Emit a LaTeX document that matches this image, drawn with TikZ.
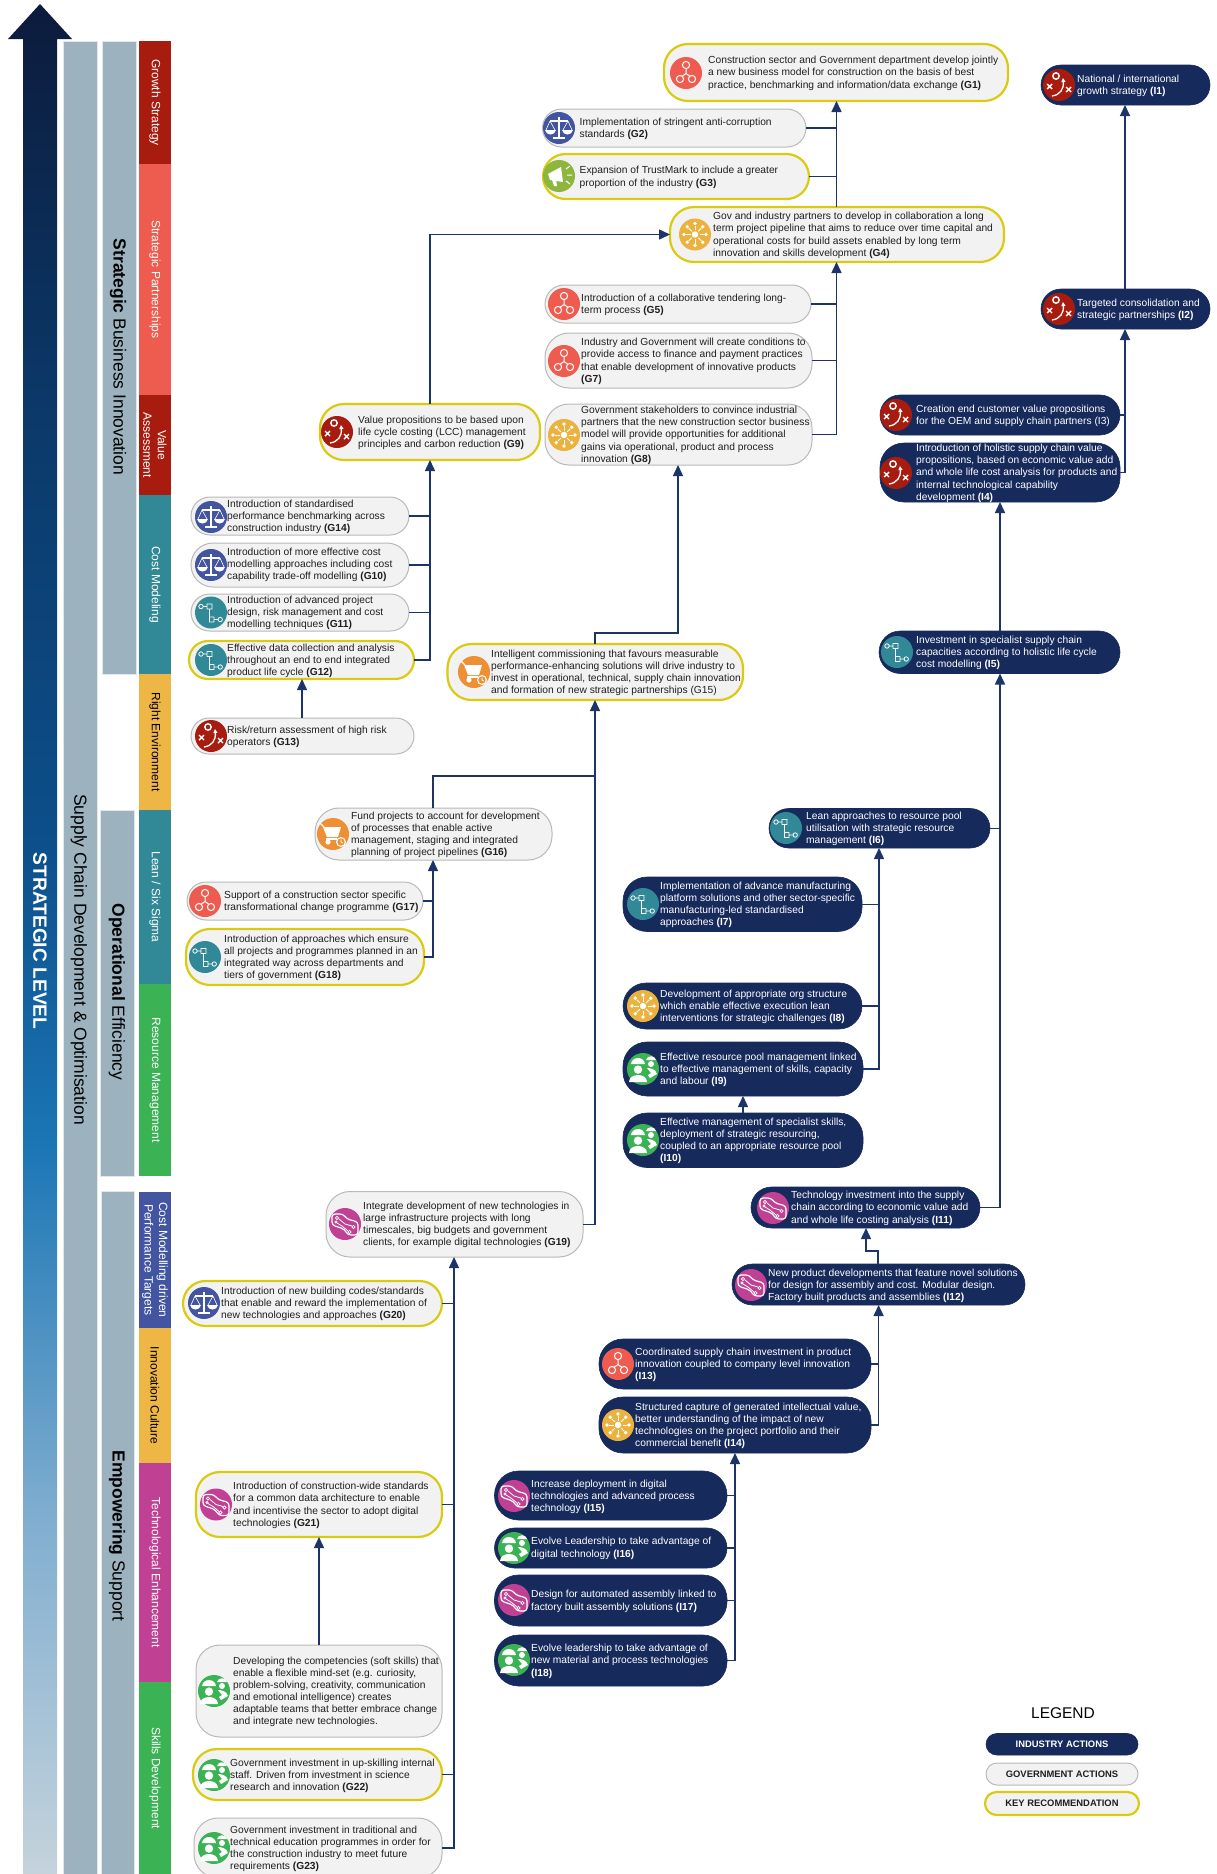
\documentclass[tikz,border=0pt]{standalone}
\usepackage{fontspec}
\setmainfont{Liberation Sans}
\usetikzlibrary{arrows.meta}
\definecolor{navy}{HTML}{172A5C}
\definecolor{linec}{HTML}{1C3468}
\definecolor{govf}{HTML}{F2F2F2}
\definecolor{govb}{HTML}{B9B9B9}
\definecolor{keyb}{HTML}{DACA10}
\definecolor{colg}{HTML}{9CB3BF}
\definecolor{colRed}{HTML}{A81C10}
\definecolor{colSal}{HTML}{EE5C4F}
\definecolor{colTeal}{HTML}{318896}
\definecolor{colOr}{HTML}{EEB645}
\definecolor{colGr}{HTML}{3BB354}
\definecolor{colMag}{HTML}{C04094}
\definecolor{colBl}{HTML}{4355A0}
\definecolor{colNet}{HTML}{EE5C4F}
\definecolor{colScale}{HTML}{4355A0}
\definecolor{colMega}{HTML}{8DB63F}
\definecolor{colHub}{HTML}{EBB23F}
\definecolor{colTactic}{HTML}{A81C10}
\definecolor{colFlow}{HTML}{318896}
\definecolor{colCart}{HTML}{EE8F35}
\definecolor{colCircuit}{HTML}{C04094}
\definecolor{colPeople}{HTML}{3BB354}
\definecolor{ga}{HTML}{C5D3DC}
\definecolor{gb}{HTML}{80AED0}
\definecolor{gc}{HTML}{1B76B5}
\definecolor{gd}{HTML}{0C4F8A}
\definecolor{ge}{HTML}{0B3868}
\definecolor{gf}{HTML}{0C1B3C}
\pgfdeclareverticalshading{arrgrad}{100bp}{color(0bp)=(ga);color(25bp)=(ga);color(34.5bp)=(gb);color(44.5bp)=(gc);color(52.5bp)=(gd);color(64.5bp)=(ge);color(75bp)=(gf);color(100bp)=(gf)}
\tikzset{
  gov/.style={draw=govb,fill=govf,line width=1pt,inner sep=0pt,outer sep=0pt},
  key/.style={draw=keyb,fill=govf,line width=2.2pt,inner sep=0pt,outer sep=0pt},
  ind/.style={draw=navy,fill=navy,line width=.6pt,inner sep=0pt,outer sep=0pt},
  gtxt/.style={anchor=west,align=left,inner sep=0pt,yshift=-.8pt,text=black!88,font=\fontsize{10.25}{12.1}\selectfont},
  itxt/.style={gtxt,text=white},
  icon/.style={circle,minimum size=32pt,inner sep=0pt,outer sep=0pt},
  conn/.style={draw=linec,line width=1.5pt},
  arr/.style={conn,-{Triangle[length=11pt,width=10pt]}},
  bandg/.style={fill=colg,draw=white!70!colg,line width=.5pt,inner sep=0pt,outer sep=0pt},
  vlabel/.style={rotate=-90,anchor=center,inner sep=0pt,font=\fontsize{17.5}{19}\selectfont,text=black},
  legt/.style={font=\fontsize{9.4}{11}\selectfont\bfseries}
}
\newcommand\dpill[6]{%
  \pgfmathsetmacro\pw{#5-#3}\pgfmathsetmacro\ph{#6-#4}\pgfmathsetmacro\pr{min(\ph/2,24)}%
  \node[#2,rounded corners=\pr pt,minimum width=\pw pt,minimum height=\ph pt] (#1) at ({(#3+#5)/2},{(#4+#6)/2}) {};}
\newcommand\gtx[4]{\node[gtxt] (#1t) at (#2,#3) {#4};}
\newcommand\itx[4]{\node[itxt] (#1t) at (#2,#3) {#4};}
\newcommand\ico[4]{\node[icon,fill=col#2] (#1i) at (#3,#4) {};%
  \begin{scope}[shift={(#3,#4)},white,line width=1pt]\csname gly#2\endcsname\end{scope}}
\newcommand\seg[8]{%
  \pgfmathsetmacro\sw{#5-#3}\pgfmathsetmacro\sh{#4-#2}%
  \node[rotate=-90,fill=#6,inner sep=0pt,outer sep=0pt,align=center,text=#7,font=\fontsize{12}{14.5}\selectfont,minimum width=\sh pt,minimum height=\sw pt] (#1) at ({(#3+#5)/2},{(#2+#4)/2}) {#8};}
\newcommand\glyNet{%
  \draw (0,-8) circle (3.6) (-6,6) circle (3.6) (6,6) circle (3.6);
  \draw (0,-4.4)--(0,0.5)--(-3.8,3.2) (0,0.5)--(3.8,3.2);}
\newcommand\glyScale{%
  \fill (-6,9)--(6,9)--(6,11)--(-6,11)--cycle;
  \draw[line width=1.6pt] (0,-11)--(0,10) (-9,-7)--(9,-7);
  \draw[line width=.6pt] (-9,-7)--(-13,2) (-9,-7)--(-4,2) (9,-7)--(13,2) (9,-7)--(4,2);
  \fill (-14,2) .. controls (-13,8) and (-4,8) .. (-3,2) -- cycle;
  \fill (3,2) .. controls (4,8) and (13,8) .. (14,2) -- cycle;}
\newcommand\glyMega{%
  \fill (-11,-2)--(2,-9)--(4,6)--(-9,4)--cycle;
  \fill (-7,4)--(-3,4)--(-2,10)--(-5,10)--cycle;
  \draw[line width=1pt] (7,-7)--(11,-10) (8,-1)--(13,-1) (7,5)--(11,8);}
\newcommand\glyHub{%
  \fill (0,0) circle (3.2);
  \foreach \a in {0,45,...,315}{\draw[line width=.9pt] (\a:4.5)--(\a:9);\fill (\a:11) circle (1.9);}}
\newcommand\glyTactic{%
  \draw[line width=1.4pt] (-3,-9) circle (3.2);
  \draw[line width=1.4pt] (-12,-1)--(-7,4) (-7,-1)--(-12,4) (7,2)--(12,7) (12,2)--(7,7);
  \draw[line width=1.3pt,-{Triangle[length=4pt,width=4pt]}] (-7,11) .. controls (1,10) and (5,4) .. (4,-7);}
\newcommand\glyFlow{%
  \draw[line width=.8pt] (-10,-6) circle (2.2) (-7.8,-6)--(-4,-6) (-4,-8.5) rectangle (1,-3.5)
   (-1.5,-3.5)--(-1.5,7) (-1.5,4.5) rectangle (3,9.5) (3,7)--(7,7) (9.2,7) circle (2.2);}
\newcommand\glyCart{%
  \fill (-10,-7)--(8,-7)--(5,3)--(-6,3)--cycle;
  \draw[line width=1.4pt] (-13,-11)--(-9,-7);
  \fill (-5,8) circle (2.6);
  \draw[line width=1.2pt] (-7,5)--(4,5);
  \draw[line width=1.1pt] (8,8) circle (4.4);
  \draw[line width=.8pt] (8,5.5)--(8,8)--(10,9);}
\newcommand\glyCircuit{%
  \draw[line width=1.2pt,rounded corners=3pt] (-13,-10)--(-2,-10)--(2,-5)--(13,-2)--(13,11)--(3,11)--(-1,5)--(-13,1)--cycle;
  \draw[line width=.8pt] (-6,-5)--(0,0)--(7,2) (-8,-1)--(-3,2)--(3,7);
  \draw[line width=.7pt] (-8,-6) circle (1.7) (8.5,3) circle (1.7) (4.5,8) circle (1.7) (-9,-2) circle (1.1);}
\newcommand\glyPeople{%
  \fill (-12,-5) .. controls (-11,-13) and (1,-13) .. (2,-5) -- cycle;
  \fill (-5,0.6) circle (4.2);
  \fill (-14,13) .. controls (-14,8) and (-9,6) .. (-5,6) .. controls (-1,6) and (4,8) .. (4,13) -- cycle;
  \fill (3,-9) .. controls (4,-14) and (12,-14) .. (13,-9) -- cycle;
  \fill (8,-5) circle (3);
  \fill (4,-1) .. controls (7,-1) and (13,0) .. (14,5) -- (7,9) -- (5,6) -- (8,4) .. controls (7,2) and (5,1) .. (4,-1) -- cycle;}
\begin{document}
\begin{tikzpicture}[x=1pt,y=-1pt]
\useasboundingbox (0,0) rectangle (1216,1874);
\clip (0,0) rectangle (1216,1874);
% left bands
\shade[shading=arrgrad] (40,4)--(72,39)--(57,39)--(57,1874)--(23,1874)--(23,39)--(8,39)--cycle;
\node[rotate=-90,inner sep=0pt,text=white,font=\fontsize{19.2}{22}\selectfont\bfseries] (lvl) at (40,941) {STRATEGIC LEVEL};
\node[bandg,rotate=-90,minimum width=1833pt,minimum height=34pt] (band2) at (80,957.5) {};
\node[vlabel] (band2t) at (79,959.5) {Supply Chain Development \& Optimisation};
\node[bandg,rotate=-90,minimum width=633pt,minimum height=34pt] (band3a) at (119,357.5) {};
\node[vlabel] (band3at) at (118,357) {\textbf{Strategic} Business Innovation};
\node[bandg,rotate=-90,minimum width=366pt,minimum height=34pt] (band3b) at (117,993) {};
\node[vlabel] (band3bt) at (117,992) {\textbf{Operational} Efficiency};
\node[bandg,rotate=-90,minimum width=683pt,minimum height=33pt] (band3c) at (117.5,1532.5) {};
\node[vlabel] (band3ct) at (117,1536) {\textbf{Empowering} Support};
% thematic column
\seg{s1}{41}{139}{164}{171}{colRed}{white}{Growth Strategy}
\seg{s2}{164}{139}{395}{171}{colSal}{white}{Strategic Partnerships}
\seg{s3}{395}{139}{495}{171}{colRed}{white}{Value\\Assessment}
\seg{s4}{495}{139}{674}{171}{colTeal}{white}{Cost Modeling}
\seg{s5}{674}{139}{810}{171}{colOr}{black}{Right Environment}
\seg{s6}{810}{139}{984}{171}{colTeal}{white}{Lean / Six Sigma}
\seg{s7}{984}{139}{1176}{171}{colGr}{white}{Resource Management}
\seg{s8}{1191.5}{139}{1328}{171}{colBl}{white}{Cost Modelling driven\\Performance Targets}
\seg{s9}{1328}{139}{1463}{171}{colOr}{black}{Innovation Culture}
\seg{s10}{1463}{139}{1682}{171}{colMag}{white}{Technological Enhancement}
\seg{s11}{1682}{139}{1874}{171}{colGr}{white}{Skills Development}
% boxes
\dpill{G1}{key}{664}{44}{1008}{101}
\dpill{G2}{gov}{542.5}{109}{806}{147}
\dpill{G3}{key}{543}{154}{809}{199}
\dpill{G4}{key}{670}{207}{1004}{262}
\dpill{G5}{gov}{545}{285}{811}{323}
\dpill{G7}{gov}{545}{333}{812}{388}
\dpill{G8}{gov}{545}{404}{812}{465}
\dpill{G9}{key}{320}{404}{540}{460}
\dpill{G14}{gov}{191}{497}{409}{535}
\dpill{G10}{gov}{191}{543}{409}{587}
\dpill{G11}{gov}{191}{594}{409}{631}
\dpill{G12}{key}{189}{641}{414}{679}
\dpill{G13}{gov}{191}{718}{414}{754}
\dpill{G15}{key}{447.5}{644}{743}{700}
\dpill{G16}{gov}{315}{808}{552}{860}
\dpill{G17}{gov}{187}{882}{423}{920}
\dpill{G18}{key}{186}{929}{424}{985}
\dpill{G19}{gov}{326}{1191.5}{583}{1257}
\dpill{G20}{key}{183}{1281}{442}{1326}
\dpill{G21}{key}{196}{1472}{442}{1537}
\dpill{GS}{gov}{196}{1645}{442}{1737}
\dpill{G22}{key}{193}{1749}{442}{1800}
\dpill{G23}{gov}{194}{1818}{442}{1878}
\dpill{I1}{ind}{1041}{65}{1210}{105}
\dpill{I2}{ind}{1041}{289}{1210}{329}
\dpill{I3}{ind}{880}{395}{1120}{435}
\dpill{I4}{ind}{880}{443}{1120}{502}
\dpill{I5}{ind}{879}{631}{1120}{673.5}
\dpill{I6}{ind}{769}{808.5}{990}{848}
\dpill{I7}{ind}{623}{877}{862}{931.5}
\dpill{I8}{ind}{623}{983}{862}{1029}
\dpill{I9}{ind}{623}{1042}{863}{1096}
\dpill{I10}{ind}{623}{1113}{863}{1167.5}
\dpill{I11}{ind}{751}{1187}{980}{1228}
\dpill{I12}{ind}{732}{1264}{1025}{1305}
\dpill{I13}{ind}{599}{1339}{871}{1389}
\dpill{I14}{ind}{599}{1397}{871}{1453}
\dpill{I15}{ind}{494.5}{1471}{727}{1520}
\dpill{I16}{ind}{494.5}{1528}{727}{1568}
\dpill{I17}{ind}{494.5}{1575}{727}{1626}
\dpill{I18}{ind}{494.5}{1635}{727}{1686}
% connector guide coordinates
\coordinate (busA) at (836.5,0);
\coordinate (busB) at (1125,0);
\coordinate (busC) at (678,0);
\coordinate (busD) at (430,0);
\coordinate (busE) at (595,0);
\coordinate (busF) at (433,0);
\coordinate (busH) at (1000,0);
\coordinate (busJ) at (879,0);
\coordinate (busK) at (454,0);
\coordinate (busL) at (878.6,0);
\coordinate (busM) at (735,0);
\coordinate (k15) at (595,633);
\coordinate (k16) at (433,776);
\coordinate (k12) at (878,1251);
\coordinate (k11) at (866,1251);
\coordinate (t13) at (302,0);
\coordinate (t10) at (743,0);
\coordinate (tS) at (319,0);
% connectors
\draw[arr] (busA |- G4.north) -- (busA |- G1.south);
\draw[conn] (G2.east) -- (G2.east -| busA);
\draw[conn] (G3.east) -- (G3.east -| busA);
\draw[arr] (G8.east) -- (G8.east -| busA) -- (busA |- G4.south);
\draw[conn] (G5.east) -- (G5.east -| busA);
\draw[conn] (G7.east) -- (G7.east -| busA);
\draw[arr] (busB |- I2.north) -- (busB |- I1.south);
\draw[arr] (I4.east) -- (I4.east -| busB) -- (busB |- I2.south);
\draw[conn] (I3.east) -- (I3.east -| busB);
\draw[arr] (busH |- I5.north) -- (busH |- I4.south);
\draw[arr] (busE |- G15.north) -- (k15) -- (k15 -| busC) -- (busC |- G8.south);
\draw[arr] (busD |- G9.north) -- (busD |- G4.west) -- (G4.west);
\draw[arr] (G12.east) -- (G12.east -| busD) -- (busD |- G9.south);
\draw[conn] (G14.east) -- (G14.east -| busD);
\draw[conn] (G10.east) -- (G10.east -| busD);
\draw[conn] (G11.east) -- (G11.east -| busD);
\draw[arr] (t13 |- G13.north) -- (t13 |- G12.south);
\draw[arr] (G19.east) -- (G19.east -| busE) -- (busE |- G15.south);
\draw[conn] (busF |- G16.north) -- (k16) -- (k16 -| busE);
\draw[arr] (G18.east) -- (G18.east -| busF) -- (busF |- G16.south);
\draw[conn] (G17.east) -- (G17.east -| busF);
\draw[arr] (I11.east) -- (I11.east -| busH) -- (busH |- I5.south);
\draw[conn] (I6.east) -- (I6.east -| busH);
\draw[arr] (I9.east) -- (I9.east -| busJ) -- (busJ |- I6.south);
\draw[conn] (I7.east) -- (I7.east -| busJ);
\draw[conn] (I8.east) -- (I8.east -| busJ);
\draw[arr] (t10 |- I10.north) -- (t10 |- I9.south);
\draw[arr] (k12 |- I12.north) -- (k12) -- (k11) -- (k11 |- I11.south);
\draw[arr] (I14.east) -- (I14.east -| busL) -- (busL |- I12.south);
\draw[conn] (I13.east) -- (I13.east -| busL);
\draw[arr] (I18.east) -- (I18.east -| busM) -- (busM |- I14.south);
\draw[conn] (I15.east) -- (I15.east -| busM);
\draw[conn] (I16.east) -- (I16.east -| busM);
\draw[conn] (I17.east) -- (I17.east -| busM);
\draw[arr] (G23.east) -- (G23.east -| busK) -- (busK |- G19.south);
\draw[conn] (G20.east) -- (G20.east -| busK);
\draw[conn] (G21.east) -- (G21.east -| busK);
\draw[conn] (G22.east) -- (G22.east -| busK);
\draw[arr] (tS |- GS.north) -- (tS |- G21.south);
% icons
\ico{G1}{Net}{686}{73}
\ico{G2}{Scale}{559}{128}
\ico{G3}{Mega}{559}{176}
\ico{G4}{Hub}{695}{234.5}
\ico{G5}{Net}{564}{304}
\ico{G7}{Net}{564}{361}
\ico{G8}{Hub}{564}{435}
\ico{G9}{Tactic}{337}{432}
\ico{G14}{Scale}{211}{517}
\ico{G10}{Scale}{211}{565}
\ico{G11}{Flow}{211}{612.5}
\ico{G12}{Flow}{211}{660}
\ico{G13}{Tactic}{211}{736}
\ico{G15}{Cart}{474}{672}
\ico{G16}{Cart}{333}{834}
\ico{G17}{Net}{205}{901}
\ico{G18}{Flow}{205}{957}
\ico{G19}{Circuit}{345}{1224}
\ico{G20}{Scale}{204}{1303}
\ico{G21}{Circuit}{216}{1504.5}
\ico{GS}{People}{214}{1691}
\ico{G22}{People}{214}{1775}
\ico{G23}{People}{214}{1848}
\ico{I1}{Tactic}{1059}{85}
\ico{I2}{Tactic}{1059}{309}
\ico{I3}{Tactic}{896}{415}
\ico{I4}{Tactic}{896}{473}
\ico{I5}{Flow}{897}{652}
\ico{I6}{Flow}{786}{828}
\ico{I7}{Flow}{643}{904}
\ico{I8}{Hub}{643}{1006}
\ico{I9}{People}{643}{1069}
\ico{I10}{People}{643}{1140}
\ico{I11}{Circuit}{773}{1208}
\ico{I12}{Circuit}{751}{1285}
\ico{I13}{Net}{618}{1364}
\ico{I14}{Hub}{618}{1425}
\ico{I15}{Circuit}{514}{1496}
\ico{I16}{People}{514}{1548}
\ico{I17}{Circuit}{514}{1600}
\ico{I18}{People}{514}{1660}
% texts
\gtx{G1}{708}{72.5}{Construction sector and Government department develop jointly\\a new business model for construction on the basis of best\\practice, benchmarking and information/data exchange \textbf{(G1)}}
\gtx{G2}{579.5}{128}{Implementation of stringent anti-corruption\\standards \textbf{(G2)}}
\gtx{G3}{579.5}{176.5}{Expansion of TrustMark to include a greater\\proportion of the industry \textbf{(G3)}}
\gtx{G4}{713}{234.5}{Gov and industry partners to develop in collaboration a long\\term project pipeline that aims to reduce over time capital and\\operational costs for build assets enabled by long term\\innovation and skills development \textbf{(G4)}}
\gtx{G5}{581}{304}{Introduction of a collaborative tendering long-\\term process \textbf{(G5)}}
\gtx{G7}{581}{360.5}{Industry and Government will create conditions to\\provide access to finance and payment practices\\that enable development of innovative products\\\textbf{(G7)}}
\gtx{G8}{581}{434.5}{Government stakeholders to convince industrial\\partners that the new construction sector business\\model will provide opportunities for additional\\gains via  operational, product and process\\innovation \textbf{(G8)}}
\gtx{G9}{358}{432}{Value propositions to be based upon\\life cycle costing (LCC) management\\principles and carbon reduction \textbf{(G9)}}
\gtx{G14}{227}{516}{Introduction of standardised\\performance benchmarking across\\construction industry \textbf{(G14)}}
\gtx{G10}{227}{564}{Introduction of more effective cost\\modelling approaches including cost\\capability trade-off modelling \textbf{(G10)}}
\gtx{G11}{227}{612}{Introduction of advanced project\\design, risk management and cost\\modelling techniques \textbf{(G11)}}
\gtx{G12}{227}{660}{Effective data collection and analysis\\throughout an end to end integrated\\product life cycle \textbf{(G12)}}
\gtx{G13}{227}{736}{Risk/return assessment of high risk\\operators \textbf{(G13)}}
\gtx{G15}{491}{672}{Intelligent commissioning that favours measurable\\performance-enhancing solutions will drive industry to\\invest in operational, technical, supply chain innovation\\and formation of new strategic partnerships (G15)}
\gtx{G16}{351}{834}{Fund projects to account for development\\of processes that enable active\\management, staging and integrated\\planning of project pipelines \textbf{(G16)}}
\gtx{G17}{224}{901}{Support of a construction sector specific\\transformational change programme \textbf{(G17)}}
\gtx{G18}{224}{957}{Introduction of approaches which ensure\\all projects and programmes planned in an\\integrated way across departments and\\tiers of government \textbf{(G18)}}
\gtx{G19}{363}{1224}{Integrate development of new technologies in\\large infrastructure projects with long\\timescales, big budgets and government\\clients, for example digital technologies \textbf{(G19)}}
\gtx{G20}{221}{1303}{Introduction of new building codes/standards\\that enable and reward the implementation of\\new technologies and approaches \textbf{(G20)}}
\gtx{G21}{233}{1504.5}{Introduction of construction-wide standards\\for a common data architecture to enable\\and incentivise the sector to adopt digital\\technologies \textbf{(G21)}}
\gtx{GS}{233}{1691}{Developing the competencies (soft skills) that\\enable a flexible mind-set (e.g. curiosity,\\problem-solving, creativity, communication\\and emotional intelligence) creates\\adaptable teams that better embrace change\\and integrate new technologies.}
\gtx{G22}{230}{1775}{Government investment in up-skilling internal\\staff. Driven from investment in science\\research and innovation \textbf{(G22)}}
\gtx{G23}{230}{1848}{Government investment in traditional and\\technical education programmes in order for\\the construction industry to meet future\\requirements \textbf{(G23)}}
\itx{I1}{1077}{85}{National / international\\growth strategy \textbf{(I1)}}
\itx{I2}{1077}{309}{Targeted consolidation and\\strategic partnerships \textbf{(I2)}}
\itx{I3}{916}{415}{Creation end customer value propositions\\for the OEM and supply chain partners (I3)}
\itx{I4}{916}{472.5}{Introduction of holistic supply chain value\\propositions, based on economic value add\\and whole life cost analysis for products and\\internal technological capability\\development \textbf{(I4)}}
\itx{I5}{916}{652}{Investment in specialist supply chain\\capacities according to holistic life cycle\\cost modelling \textbf{(I5)}}
\itx{I6}{806}{828}{Lean approaches to resource pool\\utilisation with strategic resource\\management \textbf{(I6)}}
\itx{I7}{660}{904}{Implementation of advance manufacturing\\platform solutions and other sector-specific\\manufacturing-led standardised\\approaches \textbf{(I7)}}
\itx{I8}{660}{1006}{Development of  appropriate org structure\\which enable effective execution lean\\interventions for strategic challenges \textbf{(I8)}}
\itx{I9}{660}{1069}{Effective resource pool management linked\\to effective management of skills, capacity\\and labour \textbf{(I9)}}
\itx{I10}{660}{1140}{Effective management of specialist skills,\\deployment of strategic resourcing,\\coupled to an appropriate resource pool\\\textbf{(I10)}}
\itx{I11}{791}{1207.5}{Technology investment into the supply\\chain according to economic value add\\and whole life costing analysis \textbf{(I11)}}
\itx{I12}{768}{1285}{New product developments that feature novel solutions\\for design for assembly and cost. Modular design.\\Factory built products and assemblies \textbf{(I12)}}
\itx{I13}{635}{1364}{Coordinated supply chain investment in product\\innovation coupled to company level innovation\\\textbf{(I13)}}
\itx{I14}{635}{1425}{Structured capture of generated intellectual value,\\better understanding of the impact of new\\technologies on the project portfolio and their\\commercial benefit \textbf{(I14)}}
\itx{I15}{531}{1496}{Increase deployment in digital\\technologies and advanced process\\technology \textbf{(I15)}}
\itx{I16}{531}{1547.5}{Evolve Leadership  to take advantage of\\digital technology \textbf{(I16)}}
\itx{I17}{531}{1600.5}{Design for automated assembly linked to\\factory built assembly solutions \textbf{(I17)}}
\itx{I18}{531}{1660.5}{Evolve leadership  to take advantage of\\new  material and process technologies\\\textbf{(I18)}}
% legend
\node[inner sep=0pt,font=\fontsize{15.5}{17}\selectfont,text=black] (legendt) at (1063,1713) {LEGEND};
\dpill{L1}{ind}{986}{1733.5}{1138}{1755}
\dpill{L2}{gov}{986}{1763}{1138}{1785}
\dpill{L3}{key}{985}{1792}{1139}{1815}
\node[legt,text=white] (L1t) at (L1) {INDUSTRY ACTIONS};
\node[legt,text=black!88] (L2t) at (L2) {GOVERNMENT ACTIONS};
\node[legt,text=black!88] (L3t) at (L3) {KEY RECOMMENDATION};
\end{tikzpicture}
\end{document}
